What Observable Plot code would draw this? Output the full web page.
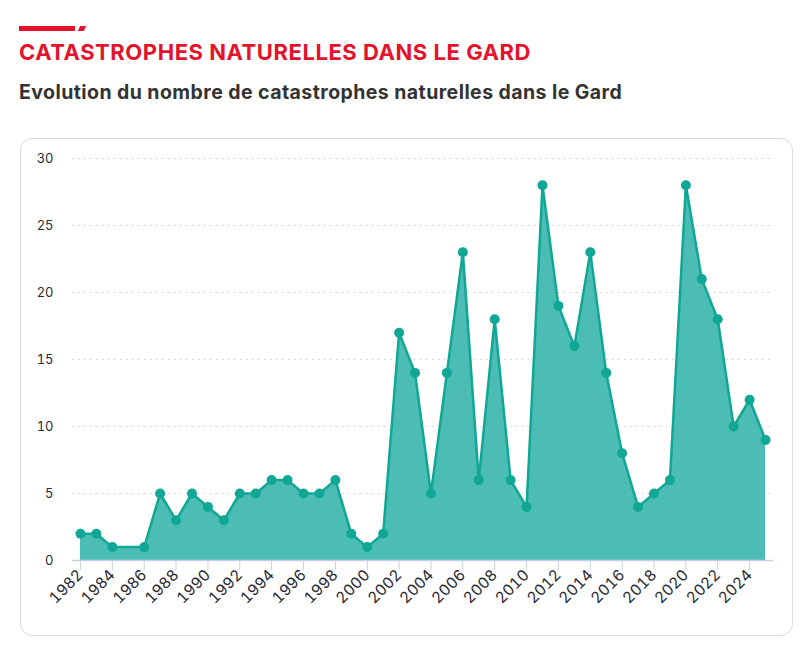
<!DOCTYPE html>
<html>
<head>
<meta charset="utf-8">
<script src="https://cdn.jsdelivr.net/npm/d3@7"></script>
<script src="https://cdn.jsdelivr.net/npm/@observablehq/plot@0.6"></script>
<style>
  html, body { margin: 0; padding: 0; background: #fff; }
  body { width: 812px; height: 653px; position: relative; overflow: hidden; font-family: Inter, "Open Sans", sans-serif; }
  .bar1 { position: absolute; left: 19px; top: 26px; width: 56px; height: 5px; background: #e4132c; }
  .bar2 { position: absolute; left: 79px; top: 26px; width: 6px; height: 5px; background: #e4132c; transform: skewX(-25deg); }
  .title { position: absolute; left: 19px; top: 39px; font-size: 22px; font-weight: 700; color: #e4132c; letter-spacing: 0.55px; white-space: nowrap; line-height: 1.2; }
  .subtitle { position: absolute; left: 19px; top: 81px; font-size: 19.5px; font-weight: 700; color: #333; letter-spacing: 0.43px; white-space: nowrap; line-height: 1.2; }
  .box { position: absolute; left: 20px; top: 138px; width: 771px; height: 496px; border: 1px solid #dcdcdc; border-radius: 12px; }
  #chart { position: absolute; left: 20px; top: 138px; }
</style>
</head>
<body>
<div class="bar1"></div><div class="bar2"></div>
<div class="title">CATASTROPHES NATURELLES DANS LE GARD</div>
<div class="subtitle">Evolution du nombre de catastrophes naturelles dans le Gard</div>
<div class="box"></div>
<div id="chart"></div>
<script>
const years = [1982,1983,1984,1986,1987,1988,1989,1990,1991,1992,1993,1994,1995,1996,1997,1998,1999,2000,2001,2002,2003,2004,2005,2006,2007,2008,2009,2010,2011,2012,2013,2014,2015,2016,2017,2018,2019,2020,2021,2022,2023,2024,2025];
const counts = [2,2,1,1,5,3,5,4,3,5,5,6,6,5,5,6,2,1,2,17,14,5,14,23,6,18,6,4,28,19,16,23,14,8,4,5,6,28,21,18,10,12,9];
const xTicks = [1982,1984,1986,1988,1990,1992,1994,1996,1998,2000,2002,2004,2006,2008,2010,2012,2014,2016,2018,2020,2022,2024];
const yTicks = [0,5,10,15,20,25,30];

const data = years.map((y, i) => ({year: y, count: counts[i]}));
const teal = "#11a796";

const chart = Plot.plot({
  width: 773,
  height: 498,
  marginLeft: 52,
  marginRight: 20,
  marginTop: 20,
  marginBottom: 76,
  x: {domain: [1981.5, 2025.5], label: null},
  y: {domain: [0, 30], label: null},
  style: {fontFamily: "Inter, 'Open Sans', sans-serif", fontSize: "13px", color: "#2b2b35", background: "transparent"},
  marks: [
    Plot.gridY(yTicks.filter(d => d > 0), {stroke: "#cfcfcf", strokeOpacity: 1, strokeDasharray: "1.5,4.5"}),
    Plot.areaY(data, {x: "year", y: "count", fill: "#4bbdb5"}),
    Plot.lineY(data, {x: "year", y: "count", stroke: teal, strokeWidth: 2.5}),
    Plot.dot(data, {x: "year", y: "count", fill: teal, r: 5}),
    Plot.ruleY([0], {stroke: "#c9d0e3", strokeWidth: 1.5}),
    Plot.axisY({ticks: yTicks, tickSize: 0, tickPadding: 19, fontSize: 13, label: null}),
    Plot.axisX({ticks: xTicks, tickFormat: d => String(d), tickRotate: -45, tickSize: 10, tickPadding: 2, stroke: "#c9d0e3", fontSize: 15.5, label: null})
  ]
});
document.getElementById("chart").appendChild(chart);
</script>
</body>
</html>
